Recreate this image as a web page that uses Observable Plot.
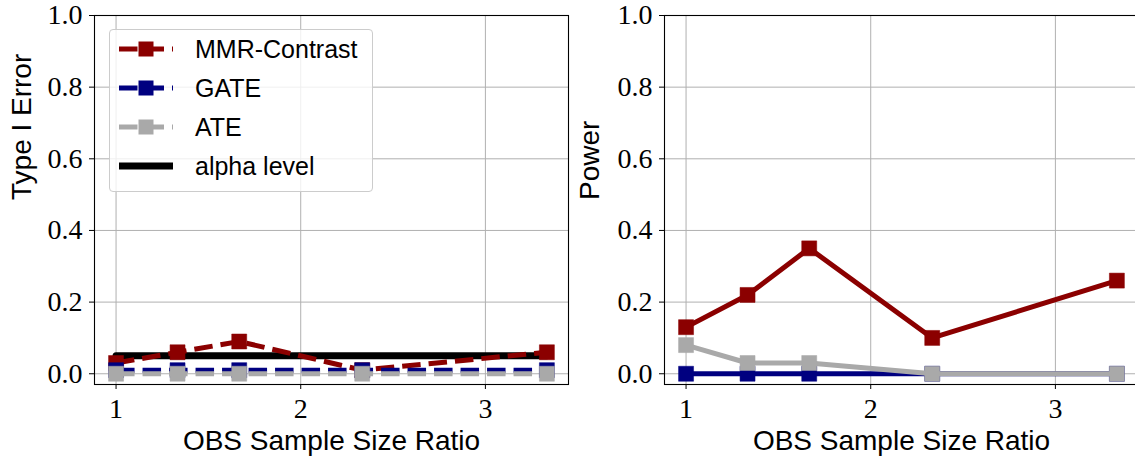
<!DOCTYPE html>
<html><head><meta charset="utf-8">
<script src="https://cdn.jsdelivr.net/npm/d3@7"></script>
<script src="https://cdn.jsdelivr.net/npm/@observablehq/plot@0.6"></script>
<style>
html,body{margin:0;padding:0;background:#fff;overflow:hidden;}
#wrap{position:relative;width:1135px;height:461px;overflow:hidden;background:#fff;}
.panel{position:absolute;top:0;}
#legend{position:absolute;left:109px;top:29px;width:262px;height:161px;border:1px solid #cccccc;border-radius:4px;background:rgba(255,255,255,0.8);font-family:"Liberation Sans",Arial,sans-serif;font-size:25px;color:#000;}
.row{position:absolute;left:0;height:30px;width:100%;}
.row svg{position:absolute;left:9px;top:0;overflow:visible;}
.row span{position:absolute;left:85px;top:0;line-height:30px;white-space:nowrap;}
</style></head><body><div id="wrap"></div>
<script>
// ---- data ----
const ratios = [1, 1.333, 1.667, 2.333, 3.333];
const seriesNames = ["MMR-Contrast", "GATE", "ATE"];
const seriesColors = ["#8b0000", "#000080", "#a9a9a9"];
const typeIMMR = [0.03, 0.06, 0.09, 0.01, 0.06];
const typeIGATE = [0.01, 0.01, 0.01, 0.01, 0.01];
const typeIATE = [0, 0, 0, 0, 0];
const powerMMR = [0.13, 0.22, 0.35, 0.10, 0.26];
const powerGATE = [0, 0, 0, 0, 0];
const powerATE = [0.08, 0.03, 0.03, 0, 0];
const alphaLevel = 0.05;
const alphaLabel = "alpha level";
const xTicks = [1, 2, 3];
const yTicks = [0, 0.2, 0.4, 0.6, 0.8, 1.0];
const xLabel = "OBS Sample Size Ratio";
const yLabels = ["Type I Error", "Power"];

// ---- build ----
const DASH = "18.5,8";
const LW = 5;
const R = 8.46;

function rows(values) { return ratios.map((x, i) => ({x, y: values[i]})); }

function panel({series, dashed, alpha, ylab, width, marginLeft, marginRight, dxLabel}) {
  const marks = [
    Plot.gridX(xTicks, {stroke: "#b0b0b0", strokeOpacity: 1, strokeWidth: 1}),
    Plot.gridY(yTicks, {stroke: "#b0b0b0", strokeOpacity: 1, strokeWidth: 1}),
    Plot.axisX(xTicks, {tickSize: 5, tickPadding: 9, tickFormat: d => String(d), label: null}),
    Plot.axisY(yTicks, {tickSize: 5, tickPadding: 7, tickFormat: d => d.toFixed(1), label: null}),
  ];
  if (alpha) {
    const a = [{x: ratios[0], y: alphaLevel}, {x: ratios[ratios.length - 1], y: alphaLevel}];
    marks.push(Plot.line(a, {x: "x", y: "y", stroke: "black", strokeWidth: 7}));
  }
  series.forEach((vals, k) => {
    const d = rows(vals);
    marks.push(Plot.line(d, {x: "x", y: "y", stroke: seriesColors[k], strokeWidth: LW,
      strokeDasharray: dashed ? DASH : null, strokeLinejoin: "round", strokeLinecap: dashed ? "butt" : "square"}));
    marks.push(Plot.dot(d, {x: "x", y: "y", symbol: "square", r: R, fill: seriesColors[k], stroke: seriesColors[k], strokeWidth: 0.5}));
  });
  marks.push(Plot.frame({stroke: "black", strokeWidth: 1.1}));
  marks.push(Plot.text([xLabel], {text: d => d, frameAnchor: "bottom", dy: 57, lineAnchor: "middle",
    fontFamily: "Liberation Sans", fontSize: 28}));
  marks.push(Plot.text([ylab], {text: d => d, frameAnchor: "left", rotate: -90, dx: dxLabel, lineAnchor: "middle",
    fontFamily: "Liberation Sans", fontSize: 28}));
  return Plot.plot({
    width, height: 461,
    marginLeft, marginRight, marginTop: 15, marginBottom: 77,
    x: {domain: [0.8833, 3.45]},
    y: {domain: [-0.03, 1.0]},
    style: {fontFamily: "Liberation Serif", fontSize: "28px", background: "transparent", overflow: "visible"},
    marks
  });
}

const wrap = document.getElementById("wrap");
const left = panel({series: [typeIMMR, typeIGATE, typeIATE], dashed: true, alpha: true, ylab: yLabels[0],
  width: 570, marginLeft: 94, marginRight: 2, dxLabel: -72});
left.classList.add("panel"); left.style.left = "0px";
wrap.appendChild(left);
const right = panel({series: [powerMMR, powerGATE, powerATE], dashed: false, alpha: false, ylab: yLabels[1],
  width: 568, marginLeft: 94, marginRight: 0, dxLabel: -74});
right.classList.add("panel"); right.style.left = "570px";
wrap.appendChild(right);

// ---- legend (HTML overlay inside left axes) ----
const legend = document.createElement("div");
legend.id = "legend";
const rowTops = [4, 43, 82, 121];
const entries = seriesNames.map((n, k) => ({name: n, color: seriesColors[k], dashed: true, marker: true}))
  .concat([{name: alphaLabel, color: "black", dashed: false, marker: false}]);
const ns = "http://www.w3.org/2000/svg";
entries.forEach((e, i) => {
  const row = document.createElement("div");
  row.className = "row";
  row.style.top = rowTops[i] + "px";
  const svg = document.createElementNS(ns, "svg");
  svg.setAttribute("width", 56); svg.setAttribute("height", 30);
  const ln = document.createElementNS(ns, "line");
  ln.setAttribute("x1", 0); ln.setAttribute("x2", 54); ln.setAttribute("y1", 15); ln.setAttribute("y2", 15);
  ln.setAttribute("stroke", e.color);
  ln.setAttribute("stroke-width", e.marker ? LW : 7);
  if (e.dashed) ln.setAttribute("stroke-dasharray", DASH);
  svg.appendChild(ln);
  if (e.marker) {
    const rc = document.createElementNS(ns, "rect");
    rc.setAttribute("x", 19.5); rc.setAttribute("y", 7.5); rc.setAttribute("width", 15); rc.setAttribute("height", 15);
    rc.setAttribute("fill", e.color);
    svg.appendChild(rc);
  }
  row.appendChild(svg);
  const sp = document.createElement("span");
  sp.textContent = e.name;
  row.appendChild(sp);
  legend.appendChild(row);
});
wrap.appendChild(legend);
</script></body></html>
